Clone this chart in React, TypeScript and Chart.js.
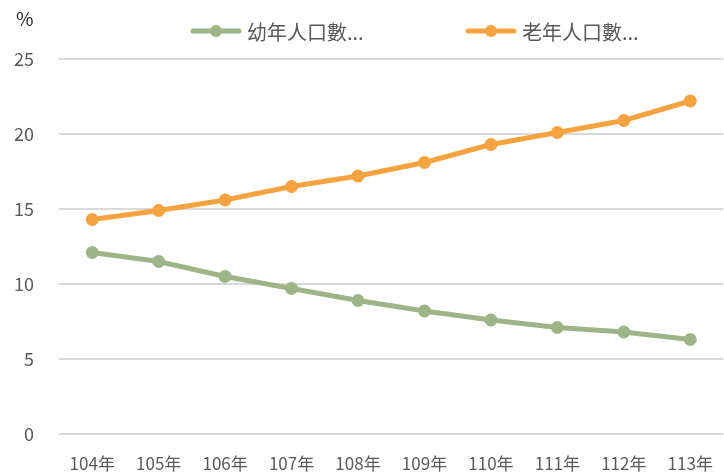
import React, { useEffect, useRef } from 'react';
import { Chart, registerables } from 'chart.js';

Chart.register(...registerables);

const categories = ['104年', '105年', '106年', '107年', '108年', '109年', '110年', '111年', '112年', '113年'];
const youthLabel = '幼年人口數...';
const elderLabel = '老年人口數...';
const youthValues = [12.1, 11.5, 10.5, 9.7, 8.9, 8.2, 7.6, 7.1, 6.8, 6.3];
const elderValues = [14.3, 14.9, 15.6, 16.5, 17.2, 18.1, 19.3, 20.1, 20.9, 22.2];
const yMin = 0;
const yMax = 25;
const yStep = 5;
const unitLabel = '%';

const FONT = '"Noto Sans CJK TC", "Noto Sans", sans-serif';
const GREEN = '#9db487';
const ORANGE = '#f5a240';
const TEXT = '#595959';

const legendPlugin = {
  id: 'customLegend',
  afterDraw(chart: any) {
    const ctx = chart.ctx;
    ctx.save();
    const items = [
      { x: 190, ds: 0 },
      { x: 465, ds: 1 },
    ];
    const y = 31;
    items.forEach(({ x, ds }) => {
      const d = chart.data.datasets[ds];
      ctx.strokeStyle = d.borderColor;
      ctx.lineWidth = 5;
      ctx.lineCap = 'round';
      ctx.beginPath();
      ctx.moveTo(x + 3, y);
      ctx.lineTo(x + 49, y);
      ctx.stroke();
      ctx.fillStyle = d.borderColor;
      ctx.beginPath();
      ctx.arc(x + 26, y, 6, 0, Math.PI * 2);
      ctx.fill();
      ctx.fillStyle = TEXT;
      ctx.font = `20px ${FONT}`;
      ctx.textBaseline = 'middle';
      ctx.textAlign = 'left';
      ctx.fillText(d.label, x + 57, y + 1);
    });
    ctx.fillStyle = '#262626';
    ctx.font = `19px ${FONT}`;
    ctx.textBaseline = 'middle';
    ctx.textAlign = 'left';
    ctx.fillText(unitLabel, 16, 19);
    ctx.restore();
  },
};

export default function App() {
  const ref = useRef<HTMLCanvasElement | null>(null);

  useEffect(() => {
    if (!ref.current) return;
    const chart = new Chart(ref.current, {
      type: 'line',
      data: {
        labels: categories,
        datasets: [
          {
            label: youthLabel,
            data: youthValues,
            borderColor: GREEN,
            backgroundColor: GREEN,
            pointBackgroundColor: GREEN,
            borderWidth: 5,
            pointRadius: 6.5,
            pointBorderWidth: 0,
            tension: 0,
          },
          {
            label: elderLabel,
            data: elderValues,
            borderColor: ORANGE,
            backgroundColor: ORANGE,
            pointBackgroundColor: ORANGE,
            borderWidth: 5,
            pointRadius: 6.5,
            pointBorderWidth: 0,
            tension: 0,
          },
        ],
      },
      options: {
        animation: false,
        responsive: true,
        maintainAspectRatio: false,
        layout: { padding: { top: 59, left: 0, right: 0, bottom: 0 } },
        plugins: {
          legend: { display: false },
          tooltip: { enabled: false },
        },
        scales: {
          x: {
            offset: true,
            border: { display: false },
            grid: {
              display: true,
              drawOnChartArea: false,
              drawTicks: true,
              tickLength: 16,
              tickColor: 'rgba(0,0,0,0)',
            },
            ticks: {
              color: TEXT,
              padding: 3,
              maxRotation: 0,
              autoSkip: false,
              font: { family: FONT, size: 17 },
            },
            afterFit: (scale: any) => {
              scale.height = 42;
            },
          },
          y: {
            min: yMin,
            max: yMax,
            border: { display: false },
            grid: {
              color: '#d9d9d9',
              lineWidth: 2,
              drawTicks: false,
            },
            ticks: {
              stepSize: yStep,
              color: TEXT,
              padding: 25,
              font: { family: FONT, size: 18 },
            },
            afterFit: (scale: any) => {
              scale.width = 59;
            },
          },
        },
      },
      plugins: [legendPlugin],
    });
    return () => chart.destroy();
  }, []);

  return (
    <div style={{ position: 'fixed', left: 0, top: 0, width: 724, height: 476, overflow: 'hidden', background: '#fff' }}>
      <div style={{ position: 'relative', width: 730, height: 476 }}>
        <canvas ref={ref} />
      </div>
    </div>
  );
}
